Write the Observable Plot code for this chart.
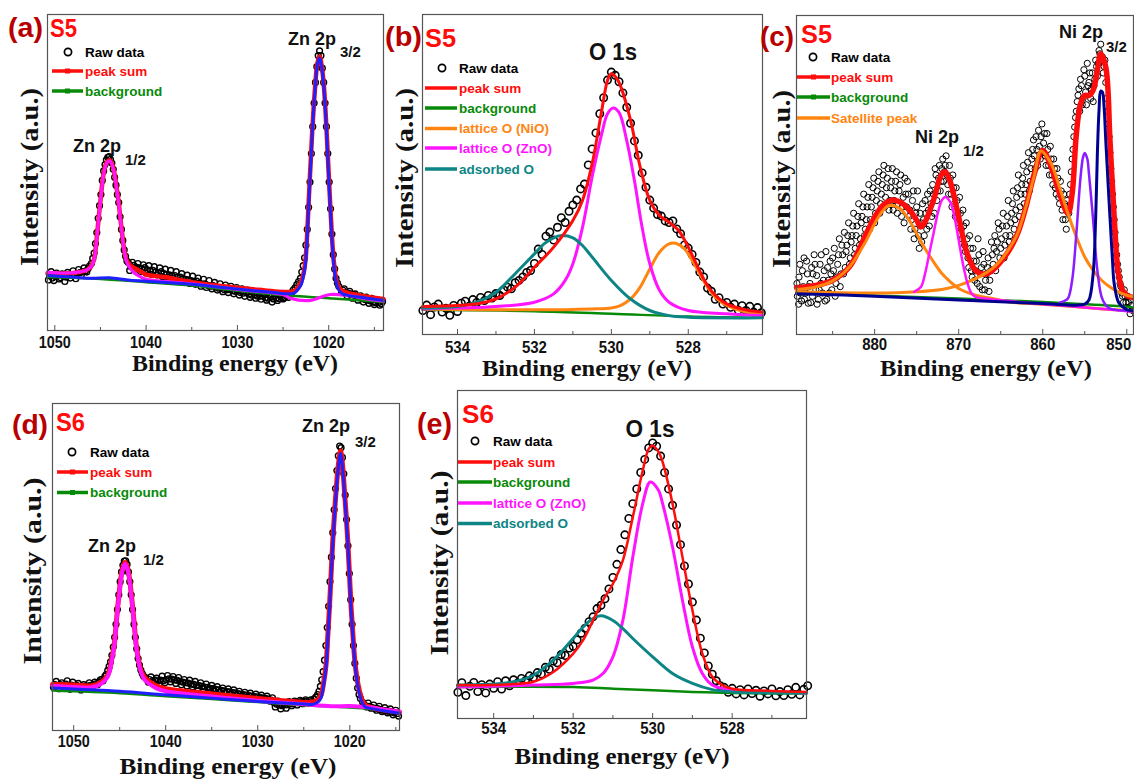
<!DOCTYPE html>
<html><head><meta charset="utf-8">
<script src="https://cdn.jsdelivr.net/npm/d3@7"></script>
<script src="https://cdn.jsdelivr.net/npm/@observablehq/plot@0.6"></script>
<style>
body{margin:0;background:#fff}
#root{position:relative;width:1134px;height:782px;overflow:hidden;background:#fff}
.serif{font-family:"Liberation Serif","DejaVu Serif","Times New Roman",Times,serif !important}
</style></head>
<body><div id="root"></div>
<script>
// ---------------- DATA (binding energy eV, intensity a.u. 0-100 of frame) ----------------
const ticksZn = [1050, 1040, 1030, 1020];
const minorZn = [1045, 1035, 1025, 1015];
const ticksO = [534, 532, 530, 528];
const minorO = [533, 531, 529, 527];
const ticksNi = [880, 870, 860, 850];
const minorNi = [885, 875, 865, 855];

const legendA = ["Raw data", "peak sum", "background"];
const legendB = ["Raw data", "peak sum", "background", "lattice O (NiO)", "lattice O (ZnO)", "adsorbed O"];
const legendC = ["Raw data", "peak sum", "background", "Satellite peak"];
const legendD = ["Raw data", "peak sum", "background"];
const legendE = ["Raw data", "peak sum", "background", "lattice O (ZnO)", "adsorbed O"];

// ---- panel (a) S5 Zn 2p ----
const aRaw = [[1050.7,16.0],[1050.4,18.6],[1050.1,15.8],[1049.8,18.2],[1049.5,16.3],[1049.2,17.9],[1048.9,15.5],[1048.6,18.4],[1048.3,16.6],[1048.0,18.9],[1047.7,16.4],[1047.4,19.3],[1047.1,17.5],[1046.8,19.8],[1046.5,18.5],[1046.2,20.4],
[1046.0,21.2],[1045.85,22.8],[1045.7,24.5],[1045.55,27.5],[1045.4,31],[1045.25,35.5],[1045.1,39.5],[1044.95,43],[1044.8,47.5],[1044.65,50.5],[1044.5,52.5],[1044.35,54],[1044.2,54.8],[1044.05,55],[1043.9,54.2],[1043.75,53],[1043.6,51],[1043.45,48.5],[1043.3,46],[1043.15,43],[1043.0,40.5],[1042.85,36],[1042.7,32],[1042.55,28.5],[1042.4,25.5],[1042.25,23.5],[1042.1,22],[1041.95,21.5],
[1041.8,19.0],[1041.5,21.6],[1041.2,19.4],[1040.9,21.2],[1040.6,18.6],[1040.3,20.8],[1040.0,18.2],[1039.7,20.5],[1039.4,17.8],[1039.1,20.2],[1038.8,17.6],[1038.5,19.8],[1038.2,17.0],[1037.9,19.4],[1037.6,16.9],[1037.3,19.0],[1037.0,16.4],[1036.7,18.6],[1036.4,15.9],[1036.1,18.0],[1035.8,15.4],[1035.5,17.5],[1035.2,14.9],[1034.9,17.2],[1034.6,14.6],[1034.3,16.6],[1034.0,14.0],[1033.7,16.2],[1033.4,13.6],[1033.1,15.8],[1032.8,13.2],[1032.5,15.2],[1032.2,12.8],[1031.9,14.8],[1031.6,12.3],[1031.3,14.4],[1031.0,12.0],[1030.7,14.0],[1030.4,11.6],[1030.1,13.6],[1029.8,11.2],[1029.5,13.2],[1029.2,10.8],[1028.9,12.8],[1028.6,10.5],[1028.3,12.4],[1028.0,10.2],[1027.7,12.0],[1027.4,9.9],[1027.1,11.6],[1026.8,9.6],[1026.5,11.4],[1026.2,9.0],[1025.9,11.1],[1025.6,9.5],[1025.3,11.0],[1025.0,10.0],[1024.7,11.3],[1024.4,10.5],[1024.1,11.8],
[1023.9,12.8],[1023.7,13.5],[1023.5,14.5],[1023.3,15.5],[1023.1,16.5],[1022.95,18.5],[1022.8,20.5],[1022.65,23],[1022.5,27],[1022.35,32],[1022.2,39],[1022.05,47],[1021.9,56],[1021.75,64.5],[1021.6,72],[1021.45,78.5],[1021.3,83.5],[1021.15,87],[1021.0,88.5],[1020.85,87],[1020.7,83],[1020.55,78.5],[1020.4,72],[1020.25,64.5],[1020.1,56],[1019.95,47],[1019.8,38.5],[1019.65,30.5],[1019.5,24],[1019.35,19.5],[1019.2,16.5],[1019.05,15],[1018.9,14],
[1018.6,12.0],[1018.3,13.2],[1018.0,11.0],[1017.7,12.4],[1017.4,10.2],[1017.1,11.6],[1016.8,9.6],[1016.5,11.0],[1016.2,9.0],[1015.9,10.6],[1015.6,8.6],[1015.3,10.2],[1015.0,8.2],[1014.7,9.6],[1014.4,8.0],[1014.1,9.2]];
const aRawFill = [[1050.55,17.3],[1050.25,16.6],[1049.95,17.1],[1049.65,17.5],[1049.35,16.7],[1049.05,17.2],[1048.75,16.9],[1048.45,17.6],[1048.15,17.4],[1047.85,17.7],[1047.55,18.0],[1047.25,18.3],[1046.95,18.6],[1046.65,18.8],[1046.35,19.6],
[1041.65,20.2],[1041.35,20.6],[1041.05,20.0],[1040.75,19.8],[1040.45,19.5],[1040.15,19.9],[1039.85,19.2],[1039.55,18.8],[1039.25,19.0],[1038.95,18.5],[1038.65,18.2],[1038.35,18.6],[1038.05,18.0],[1037.75,17.8],[1037.45,17.6],[1037.15,17.2],[1036.85,17.4],[1036.55,16.8],[1036.25,16.9],[1035.95,16.4],[1035.65,16.2],[1035.35,16.0],[1035.05,15.8],[1034.75,15.4],[1034.45,15.6],[1034.15,15.0],[1033.85,14.7],[1033.55,14.8],[1033.25,14.3],[1032.95,14.0],[1032.65,14.2],[1032.35,13.7],[1032.05,13.4],[1031.75,13.6],[1031.45,13.0],[1031.15,12.9],[1030.85,13.1],[1030.55,12.6],[1030.25,12.4],[1029.95,12.5],[1029.65,12.0],[1029.35,11.8],[1029.05,12.0],[1028.75,11.5],[1028.45,11.2],[1028.15,11.4],[1027.85,10.9],[1027.55,10.8],[1027.25,10.9],[1026.95,10.4],[1026.65,10.2],[1026.35,10.5],[1026.05,10.0],[1025.75,10.3],[1025.45,10.1],[1025.15,10.6],[1024.85,10.4],[1024.55,11.0],[1024.25,11.2],
[1018.45,12.8],[1018.15,12.0],[1017.85,11.8],[1017.55,11.5],[1017.25,11.2],[1016.95,10.8],[1016.65,10.4],[1016.35,10.2],[1016.05,9.8],[1015.75,9.6],[1015.45,9.4],[1015.15,9.0],[1014.85,8.8],[1014.55,8.9],[1014.25,8.5]];
const aSum = [[1050.8,18.1],[1049,18.0],[1047.5,18.4],[1046.6,19.0],[1046.3,19.5],[1046,20.5],[1045.7,22.5],[1045.4,29.5],[1045.2,35.5],[1045,41.1],[1044.8,46.5],[1044.6,50.5],[1044.3,53.3],[1044.0,53.9],[1043.7,52.5],[1043.4,48.5],[1043.2,44.5],[1043.0,40.5],[1042.8,35],[1042.6,30],[1042.4,25.5],[1042.1,22.0],[1041.7,20.5],[1041.3,19.8],[1040.5,18.5],[1040,17.7],[1038,16.9],[1035,15.3],[1030,13.5],[1027,12.7],[1025,12.2],[1024,12.3],[1023.5,13.2],[1023.1,14.8],[1022.8,17.5],[1022.55,22.1],[1022.35,31],[1022.19,41.1],[1022.0,52],[1021.82,62.3],[1021.64,71],[1021.46,78.1],[1021.25,84.5],[1021.0,86.7],[1020.78,84.0],[1020.55,78.1],[1020.36,70],[1020.18,60.1],[1020.0,49.5],[1019.82,39.0],[1019.64,29.5],[1019.45,22.1],[1019.2,16.5],[1018.9,13.7],[1018.5,12.6],[1018,12.0],[1017,11.3],[1016,10.8],[1014,10.0]];
const aZn12 = [[1050.8,18.5],[1049,18.2],[1047.5,18.5],[1046.6,19.0],[1046.3,19.5],[1046,20.3],[1045.7,22.3],[1045.4,29.3],[1045.2,35.3],[1045,40.9],[1044.8,46.3],[1044.6,50.3],[1044.3,53.1],[1044.0,53.7],[1043.7,52.3],[1043.4,48.3],[1043.2,44.3],[1043,40.3],[1042.8,34.8],[1042.6,29.8],[1042.4,25.3],[1042.1,21.5],[1041.7,19.5],[1041.3,18.2],[1040.5,16.8],[1040,16.2],[1035,14.8],[1030,13.0],[1025,11.4],[1024.2,10.2],[1022,9.5],[1020.8,10.6],[1019.8,11.4],[1018,11.1],[1015.8,10.0],[1014,9.3]];
const aZn32 = [[1050.8,17.4],[1048,16.9],[1046,16.5],[1044,16.7],[1042,16.0],[1040,15.6],[1035,14.6],[1030,13.1],[1026,12.0],[1024.5,11.6],[1023.8,11.8],[1023.3,13.2],[1023,14.6],[1022.8,16.8],[1022.55,21],[1022.35,30],[1022.19,40],[1022,51],[1021.82,61.5],[1021.64,70.5],[1021.46,77.5],[1021.25,84],[1021.0,86.2],[1020.78,83.5],[1020.55,77.5],[1020.36,69.5],[1020.18,59.5],[1020,48.5],[1019.82,38],[1019.64,28.5],[1019.45,21],[1019.2,15.5],[1018.9,12.8],[1018.5,11.6],[1018,11.2],[1016,10.3],[1014,9.5]];
const aBg = [[1050.8,16.9],[1045,16.3],[1040,15.3],[1035,14.2],[1030,12.6],[1025,11.2],[1020,10.2],[1014,9.0]];

// ---- panel (b) S5 O 1s ----
const bRaw = [[534.9,7.5],[534.8,9.2],[534.7,6.2],[534.6,8.6],[534.5,9.5],[534.4,7.0],[534.3,8.2],[534.2,6.0],[534.1,9.1],[534.0,7.2],[533.9,9.8],[533.8,10.4],[533.7,8.8],[533.6,10.9],[533.5,10.0],[533.4,11.6],[533.3,10.6],[533.2,12.2],[533.1,11.4],[533.0,12.8],[532.9,12.2],[532.8,13.9],[532.7,14.8],[532.6,14.3],[532.5,16.2],[532.4,16.9],[532.3,18.0],[532.2,19.4],[532.1,20.0],[532.0,22.2],[531.9,26.7],[531.8,25.0],[531.7,30.7],[531.6,32.0],[531.5,29.5],[531.4,33.5],[531.3,36.5],[531.2,35.0],[531.1,38.5],[531.0,40.5],[530.9,42.0],[530.8,45.5],[530.7,47.0],[530.6,53.0],[530.5,58.0],[530.4,63.0],[530.3,69.0],[530.2,74.0],[530.1,79.5],[530.0,82.0],[529.9,81.0],[529.8,79.0],[529.7,75.5],[529.6,71.0],[529.5,66.0],[529.4,60.5],[529.3,56.0],[529.2,50.5],[529.1,46.0],[529.0,42.0],[528.9,39.5],[528.8,37.5],[528.7,37.0],[528.6,35.5],[528.5,35.0],[528.4,35.5],[528.3,33.0],[528.2,31.5],[528.1,28.0],[528.0,27.0],[527.9,25.0],[527.8,22.5],[527.7,19.5],[527.6,18.0],[527.5,14.5],[527.4,13.5],[527.3,11.0],[527.2,11.5],[527.1,9.5],[527.0,10.0],[526.9,8.5],[526.8,9.5],[526.7,7.6],[526.6,9.0],[526.5,7.5],[526.4,8.8],[526.3,7.0],[526.2,8.4],[526.1,6.8]];
const bSum = [[534.91,8.75],[534,9.06],[533.5,9.58],[533,11.15],[532.5,14.8],[532,21.0],[531.5,27.3],[531,35.6],[530.75,41.9],[530.5,53.3],[530.25,70.0],[530.1,79.4],[530.0,81.5],[529.85,79.9],[529.75,77.3],[529.5,66.9],[529.25,52.3],[529,41.9],[528.75,37.2],[528.5,35.1],[528.25,32.5],[528,27.3],[527.75,21.0],[527.5,15.3],[527.25,11.7],[527,9.6],[526.5,7.7],[526.07,7.0]];
const bZnO = [[534.91,8.0],[534,8.3],[533,8.75],[532,10.1],[531.5,12.7],[531.2,16.9],[531,22.1],[530.75,33.5],[530.5,49.2],[530.25,62.7],[530.1,69.0],[529.95,70.8],[529.8,69.4],[529.6,60.6],[529.4,48.1],[529.2,33.5],[529,22.1],[528.75,13.8],[528.5,10.1],[528,7.5],[527,6.5],[526.07,5.9]];
const bNiO = [[534.91,8.0],[532,7.7],[530.5,8.0],[530,8.3],[529.75,9.1],[529.5,11.1],[529.25,14.8],[529,20.5],[528.75,25.7],[528.5,28.3],[528.33,28.5],[528.1,26.8],[527.85,22.1],[527.5,14.8],[527.25,11.1],[527,9.1],[526.5,7.0],[526.07,6.5]];
const bAds = [[534.91,8.3],[534,8.75],[533.5,10.1],[533,13.2],[532.5,19.0],[532,25.2],[531.75,28.3],[531.5,30.2],[531.3,30.9],[531,30.2],[530.75,27.8],[530.5,24.2],[530,16.9],[529.5,11.1],[529,7.5],[528.5,5.9],[528,5.4],[526.07,5.2]];
const bBg = [[534.91,7.7],[532,7.3],[530,6.5],[528,5.6],[526.07,5.2]];

// ---- panel (c) S5 Ni 2p ----
const cRaw = [[889.2,12],[889.0,18],[888.9,22],[888.7,10.5],[888.5,15],[888.4,24],[888.2,13],[888.0,19],[887.9,9.8],[887.7,16],[887.5,21],[887.4,12],[887.2,25],[887.0,14],[886.9,18.5],[886.7,11],[886.5,22],[886.4,16],[886.2,13],[886.0,20],[885.8,26],[885.7,11],[885.5,17],[885.3,23],[885.1,14],[884.9,20],[884.8,27],[884.6,16],[884.4,22],[884.2,30],[884.0,19],
[883.8,25],[883.6,32],[883.5,21],[883.3,28],[883.1,35],[882.9,24],[882.7,31],[882.5,38],[882.3,27],[882.1,34],[881.9,41],[881.7,30],[881.5,37],[881.3,44],[881.1,33],[880.9,40],[880.7,47],[880.5,36],[880.3,43],[880.1,49],[879.9,38],
[879.7,45],[879.5,51],[879.3,41],[879.1,47],[878.9,53],[878.7,43],[878.5,49],[878.3,39],[878.1,46],[877.9,52],[877.7,42],[877.5,48],[877.3,38],[877.1,45],[876.9,50],[876.7,40],[876.5,35],[876.3,44],[876.1,48],[875.9,37],
[875.7,33],[875.5,42],[875.3,30],[875.1,38],[874.9,45],[874.7,27],[874.5,35],[874.3,41],[874.1,31],[873.9,38],[873.7,44],[873.5,34],
[873.3,41],[873.1,47],[872.9,38],[872.7,50],[872.5,45],[872.3,53],[872.1,48],[871.9,55],[871.7,51],[871.5,56],[871.3,47],[871.1,53],[870.9,44],[870.7,50],[870.5,41],[870.3,46],[870.1,38],[869.9,43],
[869.7,33],[869.5,39],[869.3,28],[869.1,35],[868.9,24],[868.7,31],[868.5,20],[868.3,27],[868.1,17],[867.9,23],[867.7,30],[867.5,15],[867.3,21],[867.1,26],[866.9,14],[866.7,19],[866.5,24],[866.3,17],[866.1,29],
[865.9,22],[865.7,31],[865.5,26],[865.3,35],[865.1,24],[864.9,30],[864.7,38],[864.5,28],[864.3,34],[864.1,42],[863.9,31],[863.7,38],[863.5,45],[863.3,36],[863.1,43],[862.9,50],[862.7,40],[862.5,47],[862.3,53],[862.1,44],[861.9,51],[861.7,57],[861.5,48],[861.3,55],
[861.1,61],[860.9,52],[860.7,58],[860.5,64],[860.3,55],[860.1,66],[859.9,60],[859.7,56],[859.5,63],[859.3,53],[859.1,59],[858.9,50],[858.7,55],[858.5,46],[858.3,52],[858.1,43],
[857.9,48],[857.7,39],[857.5,44],[857.3,36],[857.1,42],[856.9,38],[856.7,47],
[856.5,55],[856.3,62],[856.1,68],[855.9,73],[855.7,77],[855.5,80],[855.3,72],[855.1,83],[854.9,76],[854.7,85],[854.5,79],[854.3,74],[854.1,82],[853.9,78],[853.7,86],[853.5,81],[853.3,89],[853.1,91],[852.9,87],[852.7,84],[852.5,79],[852.3,70],[852.1,62],[851.9,52],
[851.7,44],[851.5,36],[851.3,28],[851.1,22],[850.9,18],[850.7,15],[850.5,12],[850.3,14],[850.1,10],[849.9,12],[849.7,8],[849.5,11],[849.3,7.5]];
const cRawMore = [[889.25,16],[889.05,9.5],[888.85,13],[888.6,20],[888.35,11],[888.1,23],[887.85,15],[887.6,10],[887.35,19],[887.1,22],[886.85,9.5],[886.6,14],[886.35,25],[886.1,17],[885.9,10.5],[885.6,21],[885.4,13],[885.2,19],[885.0,24],[884.7,12],[884.5,18],[884.3,25],[884.1,15],
[883.9,28],[883.7,19],[883.4,26],[883.2,31],[883.0,22],[882.8,29],[882.6,34],[882.4,25],[882.2,31],[882.0,37],[881.8,28],[881.6,35],[881.4,40],[881.2,31],[881.0,36],[880.8,43],[880.6,33],[880.4,40],[880.2,46],[880.0,35],
[879.8,42],[879.6,48],[879.4,38],[879.2,44],[879.0,50],[878.8,40],[878.6,46],[878.4,52],[878.2,42],[878.0,48],[877.8,39],[877.6,45],[877.4,51],[877.2,41],[877.0,47],[876.8,37],[876.6,43],[876.4,49],[876.2,40],[876.0,44],
[875.8,39],[875.6,36],[875.4,45],[875.2,33],[875.0,40],[874.8,31],[874.6,38],[874.4,29],[874.2,36],[874.0,42],[873.8,33],[873.6,39],[873.4,45],
[873.2,37],[873.0,44],[872.8,52],[872.6,42],[872.4,49],[872.2,45],[872.0,52],[871.8,48],[871.6,53],[871.4,50],[871.2,44],[871.0,49],[870.8,40],[870.6,46],[870.4,37],[870.2,42],[870.0,35],
[869.8,38],[869.6,30],[869.4,34],[869.2,26],[869.0,30],[868.8,21],[868.6,27],[868.4,18],[868.2,23],[868.0,20],[867.8,16],[867.6,25],[867.4,19],[867.2,14],[867.0,22],[866.8,17],[866.6,21],[866.4,13.5],[866.2,20],[866.0,25],
[865.8,27],[865.6,20],[865.4,29],[865.2,33],[865.0,27],[864.8,34],[864.6,24],[864.4,31],[864.2,37],[864.0,29],[863.8,35],[863.6,41],[863.4,33],[863.2,39],[863.0,46],[862.8,37],[862.6,44],[862.4,49],[862.2,41],[862.0,47],[861.8,54],[861.6,45],[861.4,52],[861.2,58],
[861.0,56],[860.8,62],[860.6,53],[860.4,59],[860.2,62],[860.0,57],[859.8,63],[859.6,53],[859.4,58],[859.2,50],[859.0,55],[858.8,47],[858.6,52],[858.4,44],[858.2,49],[858.0,41],
[857.8,45],[857.6,36],[857.4,41],[857.2,33],[857.0,39],[856.8,44],[856.6,51],
[856.4,58],[856.2,65],[856.0,70],[855.8,75],[855.6,70],[855.4,78],[855.2,74],[855.0,81],[854.8,72],[854.6,78],[854.4,82],[854.2,77],[854.0,73],[853.8,80],[853.6,84],[853.4,85],[853.2,88],[853.0,86],[852.8,82],[852.6,86],[852.4,74],[852.2,66],[852.0,57],
[851.8,48],[851.6,40],[851.4,32],[851.2,25],[851.0,20],[850.8,16],[850.6,13],[850.4,10],[850.2,12],[850.0,8.5],[849.8,10],[849.6,6.5],[849.4,9]];
const cSum = [[889.3,14.7],[887,15.4],[885,17.0],[883,21.2],[881,31.6],[880,36.8],[879,40.5],[878,42.1],[877,41.5],[876,39.5],[875,35.8],[874.5,33.7],[874,35.3],[873,42.1],[872,50.4],[871.6,51.0],[871,47.8],[870,36.8],[869,25.4],[868,20.1],[867,18.9],[866,20.1],[865,22.8],[864,26.4],[863,31.6],[862,40.0],[861,50.4],[860,57.7],[859,52.5],[858,44.2],[857,37.9],[856.5,44.2],[856,62.9],[855.5,72.3],[855,74.9],[854.5,74.9],[854,76.6],[853.5,82.8],[853.1,88.0],[852.5,83.8],[852,60.9],[851.5,36.8],[851,19.1],[850.5,13.9],[850,12.3],[849.2,11.5]];
const cSat1 = [[889.3,14.1],[887,14.9],[885,16.8],[883,21.2],[881,29.5],[880,34.8],[879,38.9],[878.2,40.5],[877,39.5],[876,36.3],[875,31.6],[874,26.9],[873,22.8],[872,19.1],[871,16.5],[870,14.4],[868,12.3],[866,11.3],[864,10.2],[860,9.5],[856,8.7],[852,7.8],[849.2,7.4]];
const cSat2 = [[889.3,13.4],[880,13.0],[875,13.4],[872,14.1],[870,15.4],[868,17.5],[866,20.7],[865,23.3],[864,26.9],[863,31.6],[862,40.0],[861,49.9],[860.2,57.5],[859,53.5],[858,46.1],[857,37.9],[856,30.6],[855,24.3],[854,20.1],[853,17.0],[852,14.9],[851,13.4],[850,12.3],[849.2,11.8]];
const cNi12 = [[875.3,13.4],[874.5,14.9],[874,19.1],[873.5,25.4],[873,31.6],[872.5,37.9],[872,42.1],[871.6,43.1],[871,41.5],[870.5,36.8],[870,29.5],[869.5,22.2],[869,16.5],[868.5,13.0],[868,11.8],[867,11.3],[864,10.5],[860,9.5],[855,8.5],[852,7.8],[849.2,7.1]];
const cNi32b = [[858,10.0],[857.5,10.4],[857,11.3],[856.5,17.0],[856,31.6],[855.5,49.4],[855.2,55.6],[855,56.9],[854.7,55.1],[854.5,50.4],[854,35.8],[853.5,20.1],[853,11.8],[852.5,9.2],[852,8.1],[849.2,7.4]];
const cNi32 = [[889.3,12.8],[880,12.0],[870,10.8],[860,9.7],[856,9.2],[855,9.5],[854.5,10.8],[854,19.1],[853.7,36.8],[853.5,56.7],[853.3,70.3],[853.1,76.3],[852.9,76.0],[852.7,71.3],[852.5,60.9],[852.2,46.2],[852,36.8],[851.7,23.3],[851.5,16.0],[851,10.2],[850.5,8.7],[850,7.8],[849.2,7.4]];
const cBg = [[889.3,13.0],[870,11.3],[860,10.2],[855,9.5],[850,8.7],[849.2,8.5]];

// ---- panel (d) S6 Zn 2p ----
const dRaw = [[1052.2,13.2],[1051.9,15.0],[1051.6,12.8],[1051.3,14.6],[1051.0,13.0],[1050.7,15.2],[1050.4,12.6],[1050.1,14.8],[1049.8,13.2],[1049.5,14.4],[1049.2,12.4],[1048.9,14.0],[1048.6,12.8],[1048.3,14.6],[1048.0,13.0],[1047.7,14.8],[1047.4,14.0],[1047.1,15.5],[1046.8,15.2],[1046.6,16.6],
[1046.45,17.2],[1046.3,18.4],[1046.15,19.6],[1046.0,21.0],[1045.85,23],[1045.7,25.5],[1045.55,28.5],[1045.4,32.5],[1045.25,37],[1045.1,41.5],[1044.95,45.5],[1044.8,48.5],[1044.65,50.5],[1044.5,51.8],[1044.35,51.9],[1044.2,50.8],[1044.05,48.5],[1043.9,45.5],[1043.75,41.5],[1043.6,37],[1043.45,32.5],[1043.3,28.5],[1043.15,25],[1043.0,22],[1042.85,20],[1042.7,18.5],[1042.55,17.4],[1042.4,16.6],[1042.2,16.2],
[1041.9,14.8],[1041.6,16.4],[1041.3,14.4],[1041.0,16.0],[1040.7,14.2],[1040.4,16.6],[1040.1,14.6],[1039.8,16.8],[1039.5,14.9],[1039.2,16.5],[1038.9,14.4],[1038.6,16.2],[1038.3,14.0],[1038.0,15.6],[1037.7,13.6],[1037.4,15.4],[1037.1,13.4],[1036.8,15.0],[1036.5,13.0],[1036.2,14.6],[1035.9,12.7],[1035.6,14.2],[1035.3,12.4],[1035.0,13.8],[1034.7,12.0],[1034.4,13.4],[1034.1,11.7],[1033.8,13.0],[1033.5,11.4],[1033.2,12.7],[1032.9,11.1],[1032.6,12.4],[1032.3,10.8],[1032.0,12.0],[1031.7,10.5],[1031.4,11.7],[1031.1,10.2],[1030.8,11.4],[1030.5,9.9],[1030.2,11.1],[1029.9,9.7],[1029.6,10.8],[1029.3,9.4],[1029.0,10.5],[1028.7,9.0],[1028.4,10.0],[1028.1,7.2],[1027.8,9.0],[1027.5,6.6],[1027.2,8.4],[1026.9,6.8],[1026.6,8.8],[1026.3,7.6],[1026.0,9.0],[1025.7,7.8],[1025.4,9.2],[1025.1,8.2],[1024.8,9.4],[1024.5,8.4],[1024.2,9.4],
[1023.9,9.6],[1023.7,10.2],[1023.5,11.0],[1023.35,12.0],[1023.2,13.5],[1023.05,15.5],[1022.9,18],[1022.75,21.5],[1022.6,26],[1022.45,31.5],[1022.3,38],[1022.15,45.5],[1022.0,53],[1021.85,60.5],[1021.7,67.5],[1021.55,74],[1021.4,79.5],[1021.25,84],[1021.1,87],[1020.95,86.5],[1020.8,83.5],[1020.65,78.5],[1020.5,72],[1020.35,64.5],[1020.2,56.5],[1020.05,48],[1019.9,40],[1019.75,32.5],[1019.6,26],[1019.45,20.5],[1019.3,16],[1019.15,13],[1019.0,11],[1018.85,9.8],
[1018.6,8.6],[1018.3,7.6],[1018.0,8.4],[1017.7,6.8],[1017.4,7.8],[1017.1,6.2],[1016.8,7.4],[1016.5,5.8],[1016.2,7.0],[1015.9,5.4],[1015.6,6.6],[1015.3,4.8],[1015.0,6.2],[1014.7,4.4]];
const dRawFill = [[1052.05,14.0],[1051.75,13.8],[1051.45,14.0],[1051.15,13.6],[1050.85,14.2],[1050.55,13.7],[1050.25,13.9],[1049.95,13.5],[1049.65,13.8],[1049.35,13.4],[1049.05,13.2],[1048.75,13.5],[1048.45,13.6],[1048.15,13.8],[1047.85,14.0],[1047.55,14.3],[1047.25,14.8],[1046.95,15.6],
[1041.75,15.6],[1041.45,15.2],[1041.15,15.4],[1040.85,15.1],[1040.55,15.4],[1040.25,15.2],[1039.95,15.6],[1039.65,15.8],[1039.35,15.7],[1039.05,15.5],[1038.75,15.3],[1038.45,15.0],[1038.15,14.8],[1037.85,14.6],[1037.55,14.5],[1037.25,14.2],[1036.95,14.1],[1036.65,13.8],[1036.35,13.7],[1036.05,13.5],[1035.75,13.3],[1035.45,13.2],[1035.15,12.9],[1034.85,12.8],[1034.55,12.6],[1034.25,12.4],[1033.95,12.3],[1033.65,12.1],[1033.35,11.9],[1033.05,11.8],[1032.75,11.6],[1032.45,11.5],[1032.15,11.3],[1031.85,11.1],[1031.55,11.0],[1031.25,10.8],[1030.95,10.7],[1030.65,10.5],[1030.35,10.4],[1030.05,10.3],[1029.75,10.1],[1029.45,9.9],[1029.15,9.8],[1028.85,9.6],[1028.55,9.3],[1028.25,8.6],[1027.95,8.0],[1027.65,7.8],[1027.35,7.6],[1027.05,7.9],[1026.75,7.9],[1026.45,8.3],[1026.15,8.2],[1025.85,8.6],[1025.55,8.5],[1025.25,8.8],[1024.95,8.9],[1024.65,9.0],[1024.35,9.2],
[1018.45,7.8],[1018.15,7.2],[1017.85,7.4],[1017.55,7.0],[1017.25,6.8],[1016.95,6.7],[1016.65,6.4],[1016.35,6.2],[1016.05,6.0],[1015.75,5.9],[1015.45,5.6],[1015.15,5.4],[1014.85,5.2]];
const dSum = [[1052.3,14.1],[1050,13.9],[1048,13.7],[1047,14.8],[1046.4,16.5],[1046.12,18.3],[1045.85,22],[1045.58,26.5],[1045.4,32],[1045.22,37.7],[1045.04,42.5],[1044.86,46.8],[1044.64,50],[1044.42,51.4],[1044.2,50.3],[1043.95,46.8],[1043.77,42.5],[1043.59,37.7],[1043.4,32],[1043.22,26.5],[1042.95,21.5],[1042.68,18.3],[1042.3,16.3],[1041.96,15.3],[1041,13.6],[1040,12.8],[1035,11.2],[1030,9.8],[1025,8.6],[1024,8.7],[1023.4,9.5],[1023.12,10.8],[1022.85,14.5],[1022.57,20.4],[1022.4,28.5],[1022.21,37.7],[1022.03,48],[1021.85,58.0],[1021.67,66],[1021.49,73.3],[1021.25,81],[1021.01,85.5],[1020.8,81.5],[1020.58,73.3],[1020.4,66],[1020.22,58.0],[1020.04,48],[1019.86,37.7],[1019.64,28.5],[1019.42,20.4],[1019.1,14],[1018.77,10.2],[1018.4,8],[1018,7.3],[1016,6.1],[1014.6,5.6]];
const dZn12 = [[1052.3,13.6],[1050,13.3],[1048,13.2],[1047,14.3],[1046.4,16.0],[1046.12,17.8],[1045.85,21.5],[1045.58,26],[1045.4,31.5],[1045.22,37.2],[1045.04,42],[1044.86,46.3],[1044.64,49.5],[1044.42,50.9],[1044.2,49.8],[1043.95,46.3],[1043.77,42],[1043.59,37.2],[1043.4,31.5],[1043.22,26],[1042.95,21],[1042.68,17.8],[1042.3,15.5],[1041.96,14.6],[1041,12.9],[1040,12.0],[1035,10.4],[1030,9.1],[1025,8.0],[1022,7.4],[1020,7.5],[1018,7.1],[1016,6.3],[1014.6,5.8]];
const dZn32 = [[1052.3,13.0],[1045,12.0],[1040,10.9],[1035,9.9],[1030,8.9],[1025,8.1],[1024,8.0],[1023.4,8.8],[1023.12,10.0],[1022.85,13.8],[1022.57,19.6],[1022.4,27.7],[1022.21,36.9],[1022.03,47.2],[1021.85,57.2],[1021.67,65.2],[1021.49,72.5],[1021.25,80.2],[1021.01,84.7],[1020.8,80.7],[1020.58,72.5],[1020.4,65.2],[1020.22,57.2],[1020.04,47.2],[1019.86,36.9],[1019.64,27.7],[1019.42,19.6],[1019.1,13.2],[1018.77,9.4],[1018.4,7.4],[1018,6.9],[1016,5.9],[1014.6,5.3]];
const dBg = [[1052.3,12.2],[1045,11.4],[1040,10.5],[1035,9.6],[1030,8.7],[1025,7.7],[1020,7.0],[1016,6.0],[1014.6,5.3]];

// ---- panel (e) S6 O 1s ----
const eRaw = [[534.9,8.0],[534.8,10.9],[534.7,7.0],[534.6,9.8],[534.5,11.0],[534.4,8.2],[534.3,10.3],[534.2,7.8],[534.1,10.5],[534.0,9.2],[533.9,11.2],[533.8,9.0],[533.7,11.5],[533.6,10.0],[533.5,11.8],[533.4,10.8],[533.3,12.2],[533.2,11.5],[533.1,13.0],[533.0,12.5],[532.9,14.0],[532.8,13.6],[532.7,15.6],[532.6,15.0],[532.5,17.5],[532.4,17.0],[532.3,19.5],[532.2,19.2],[532.1,21.5],[532.0,22.0],[531.9,24.0],[531.8,26.0],[531.7,27.5],[531.6,29.5],[531.5,31.0],[531.4,33.5],[531.3,34.5],[531.2,36.5],[531.1,39.5],[531.0,43.0],[530.9,47.0],[530.8,51.5],[530.7,56.0],[530.6,61.0],[530.5,65.5],[530.4,70.0],[530.3,75.0],[530.2,79.0],[530.1,82.5],[530.0,84.0],[529.9,83.0],[529.8,80.0],[529.7,75.0],[529.6,70.0],[529.5,65.0],[529.4,59.0],[529.3,53.0],[529.2,46.5],[529.1,41.0],[529.0,35.5],[528.9,30.0],[528.8,24.5],[528.7,20.0],[528.6,16.0],[528.5,13.5],[528.4,11.5],[528.3,10.0],[528.2,9.5],[528.1,8.0],[528.0,9.2],[527.9,7.5],[527.8,8.8],[527.7,7.2],[527.6,9.0],[527.5,7.6],[527.4,8.6],[527.3,6.8],[527.2,8.4],[527.1,7.5],[527.0,9.0],[526.9,6.9],[526.8,8.2],[526.7,7.0],[526.6,8.8],[526.5,7.4],[526.4,9.5],[526.3,7.2],[526.2,8.9],[526.1,10.0]];
const eSum = [[534.91,10.2],[534,10.2],[533.5,10.5],[533,11.2],[532.5,14.2],[532,19.8],[531.75,23.9],[531.5,29.9],[531.25,36.0],[531,41.1],[530.75,48.2],[530.5,61.4],[530.25,75.6],[530.1,82.2],[530.0,83.2],[529.85,81.2],[529.75,78.2],[529.5,65.5],[529.25,49.2],[529,33.0],[528.75,19.8],[528.5,12.7],[528.25,10.2],[528,9.1],[527,8.4],[526.13,8.1]];
const eZnO = [[534.91,9.6],[534,9.8],[533,10.2],[532,10.7],[531.5,11.7],[531.25,13.7],[531,18.8],[530.75,29.9],[530.5,49.2],[530.25,65.5],[530.06,72.1],[529.85,69.5],[529.75,65.5],[529.5,52.3],[529.25,36.0],[529,21.8],[528.75,13.7],[528.5,10.2],[528,8.6],[527,8.1],[526.13,7.8]];
const eAds = [[534.91,10.2],[534,10.5],[533.5,11.2],[533,13.2],[532.5,17.8],[532,24.4],[531.75,27.9],[531.5,30.5],[531.3,31.3],[531,29.9],[530.75,27.4],[530.5,24.4],[530,18.8],[529.5,13.7],[529,10.7],[528.5,8.8],[528,8.1],[526.13,7.8]];
const eBg = [[534.91,9.6],[532,9.6],[531,9.1],[530,8.6],[529,8.1],[528,7.8],[526.13,7.6]];

// ---------------- LAYOUT ----------------
const SANS = "Liberation Sans, Arial, Helvetica, sans-serif";
const C = {red:"#ff0d0d", green:"#078a07", blue:"#1f1fff", magenta:"#ff14ff", orange:"#ff8410", teal:"#0d8585", purple:"#8a1cff", navy:"#000090", frame:"#555"};

const root = document.getElementById("root");

function panel({frame:[L,T,R,B], domain, majors, minors, pad, raw, r, sw, lines, shiftLast = 0}) {
  const mL = 24, mR = 24, mT = 4, mB = 30;
  const marks = [
    ...raw.map(set => Plot.dot(set, {x: d => d[0], y: d => d[1], r, stroke: "#000", strokeWidth: sw, fill: "none"})),
    ...lines.map(([data, color, w]) => Plot.line(data, {x: d => d[0], y: d => d[1], stroke: color, strokeWidth: w, curve: "catmull-rom"})),
    Plot.frame({stroke: C.frame, strokeWidth: 1.2}),
    Plot.axisX({ticks: majors, tickSize: 0, tickPadding: pad, tickFormat: d => String(d), fill: "#111"}),
    Plot.axisX({ticks: majors, tickSize: 5, dy: -5, tickFormat: () => "", stroke: C.frame}),
    Plot.axisX({ticks: minors, tickSize: 3, dy: -3, tickFormat: () => "", stroke: C.frame})
  ];
  const svg = Plot.plot({
    width: R - L + mL + mR, height: B - T + mT + mB,
    marginLeft: mL, marginRight: mR, marginTop: mT, marginBottom: mB,
    x: {domain, axis: null}, y: {domain: [0, 100], axis: null},
    style: {fontFamily: SANS, fontSize: "17px", fontWeight: "bold", color: "#111", background: "transparent", overflow: "visible"},
    marks
  });
  // condensed tick labels like the original
  const labels = [...svg.querySelectorAll("text")].filter(t => /^\d+$/.test(t.textContent.trim()));
  labels.forEach((t, i) => {
    const s = t.textContent.trim();
    t.setAttribute("textLength", s.length === 4 ? 32 : 25);
    t.setAttribute("lengthAdjust", "spacingAndGlyphs");
    if (shiftLast && i === labels.length - 1) t.setAttribute("dx", shiftLast);
  });
  svg.style.position = "absolute";
  svg.style.left = (L - mL) + "px";
  svg.style.top = (T - mT) + "px";
  root.appendChild(svg);
}

panel({frame:[47,14,383,330], domain:[1050.8,1014.0], majors:ticksZn, minors:minorZn, pad:5, raw:[aRaw, aRawFill], r:2.9, sw:1.4,
  lines:[[aBg,C.green,2.5],[aSum,C.red,4.5],[aZn12,C.magenta,3.2],[aZn32,C.blue,3]]});
panel({frame:[422,14,762,334], domain:[534.91,526.07], majors:ticksO, minors:minorO, pad:6, raw:[bRaw], r:3.7, sw:1.6,
  lines:[[bBg,C.green,2.5],[bNiO,C.orange,3],[bZnO,C.magenta,3],[bAds,C.teal,3],[bSum,C.red,3]]});
panel({frame:[796,15,1133,334], domain:[889.3,849.2], majors:ticksNi, minors:minorNi, pad:3, raw:[cRaw, cRawMore], r:3.1, sw:1.0, shiftLast:-8,
  lines:[[cBg,C.green,2.5],[cSum,C.red,5.5],[cSat1,C.orange,3],[cSat2,C.orange,3],[cNi12,C.magenta,2.5],[cNi32b,C.purple,2.5],[cNi32,C.navy,3]]});
panel({frame:[52,403,399,730], domain:[1052.3,1014.6], majors:ticksZn, minors:minorZn, pad:4, raw:[dRaw, dRawFill], r:2.9, sw:1.4,
  lines:[[dBg,C.green,2.5],[dSum,C.red,5],[dZn12,C.magenta,4],[dZn32,C.blue,3]]});
panel({frame:[457,390,806,718], domain:[534.91,526.13], majors:ticksO, minors:minorO, pad:3, raw:[eRaw], r:3.7, sw:1.6,
  lines:[[eBg,C.green,2.5],[eZnO,C.magenta,3],[eAds,C.teal,3],[eSum,C.red,2.5]]});

// ---------------- overlay text & legends ----------------
const NS = "http://www.w3.org/2000/svg";
const ov = document.createElementNS(NS, "svg");
ov.setAttribute("width", 1134); ov.setAttribute("height", 782);
ov.style.cssText = "position:absolute;left:0;top:0;pointer-events:none";
root.appendChild(ov);
function el(tag, attrs, text) {
  const e = document.createElementNS(NS, tag);
  for (const k in attrs) e.setAttribute(k, attrs[k]);
  if (text != null) e.textContent = text;
  ov.appendChild(e); return e;
}
function T(x, y, s, size, fill, o = {}) {
  const a = {x, y, "font-size": size, fill, "font-weight": "bold", "text-anchor": o.anchor || "start"};
  if (o.len) { a.textLength = o.len; a.lengthAdjust = "spacingAndGlyphs"; }
  if (o.rot) a.transform = `rotate(-90 ${x} ${y})`;
  const e = el("text", a, s);
  if (o.serif) e.setAttribute("class", "serif"); else e.style.fontFamily = SANS;
  return e;
}
function legend(names, colors, cx, x0, x1, tx, rows, markers) {
  el("circle", {cx, cy: rows[0], r: 3.6, fill: "none", stroke: "#000", "stroke-width": 1.7});
  T(tx, rows[0] + 4.7, names[0], 13.5, "#000");
  for (let i = 1; i < names.length; i++) {
    el("line", {x1: x0, x2: x1, y1: rows[i], y2: rows[i], stroke: colors[i], "stroke-width": 3.5});
    if (markers && i <= 2) el("rect", {x: (x0 + x1) / 2 - 2.5, y: rows[i] - 2.5, width: 5, height: 5, fill: colors[i]});
    T(tx, rows[i] + 4.7, names[i], 13.5, colors[i]);
  }
}
const DR = "#b80000";
// (a)
T(8, 37, "(a)", 28, DR, {len: 35}); T(50, 37, "S5", 25, C.red, {len: 27});
legend(legendA, ["#000", C.red, C.green], 68, 52, 83, 85, [52, 71, 91], true);
T(288, 45, "Zn 2p", 18, "#111"); T(340, 57, "3/2", 15, "#111");
T(73, 152, "Zn 2p", 18, "#111"); T(125, 165, "1/2", 15, "#111");
T(38, 177, "Intensity (a.u.)", 25, "#111", {serif: true, anchor: "middle", rot: true, len: 178});
T(235, 371, "Binding energy (eV)", 24, "#111", {serif: true, anchor: "middle", len: 206});
// (b)
T(385, 46, "(b)", 28, DR, {len: 37}); T(425, 47, "S5", 25, C.red, {len: 31});
T(613, 60, "O 1s", 23, "#111", {anchor: "middle", len: 48});
legend(legendB, ["#000", C.red, C.green, C.orange, C.magenta, C.teal], 442, 425, 457, 459, [68, 88, 108, 128.5, 148, 169], false);
T(413, 178, "Intensity (a.u.)", 25, "#111", {serif: true, anchor: "middle", rot: true, len: 180});
T(587, 376, "Binding energy (eV)", 24, "#111", {serif: true, anchor: "middle", len: 210});
// (c)
T(760, 46, "(c)", 28, DR, {len: 34}); T(801, 43, "S5", 25, C.red, {len: 31});
legend(legendC, ["#000", C.red, C.green, C.orange], 813, 797, 830, 831, [57, 77, 97, 118], true);
T(1059, 38, "Ni 2p", 18, "#111"); T(1106, 52, "3/2", 15, "#111");
T(915, 143, "Ni 2p", 18, "#111"); T(963, 156, "1/2", 15, "#111");
T(790, 179, "Intensity (a.u.)", 25, "#111", {serif: true, anchor: "middle", rot: true, len: 178});
T(986, 376, "Binding energy (eV)", 24, "#111", {serif: true, anchor: "middle", len: 212});
// (d)
T(12, 434, "(d)", 28, DR, {len: 36}); T(56, 431, "S6", 25, C.red, {len: 29});
legend(legendD, ["#000", C.red, C.green], 72, 57, 88, 90, [452, 472, 492.5], true);
T(302, 432, "Zn 2p", 18, "#111"); T(355, 447, "3/2", 15, "#111");
T(88, 552, "Zn 2p", 18, "#111"); T(143, 565, "1/2", 15, "#111");
T(41, 571, "Intensity (a.u.)", 25, "#111", {serif: true, anchor: "middle", rot: true, len: 187});
T(228, 774, "Binding energy (eV)", 24, "#111", {serif: true, anchor: "middle", len: 217});
// (e)
T(417, 434, "(e)", 29, DR, {len: 35}); T(462, 423, "S6", 25, C.red, {len: 32});
T(650, 437, "O 1s", 23, "#111", {anchor: "middle", len: 49});
legend(legendE, ["#000", C.red, C.green, C.magenta, C.teal], 475, 458, 492, 493, [441, 462, 482, 503, 523.5], false);
T(448, 563, "Intensity (a.u.)", 25, "#111", {serif: true, anchor: "middle", rot: true, len: 185});
T(622, 764, "Binding energy (eV)", 24, "#111", {serif: true, anchor: "middle", len: 215});
</script></body></html>
